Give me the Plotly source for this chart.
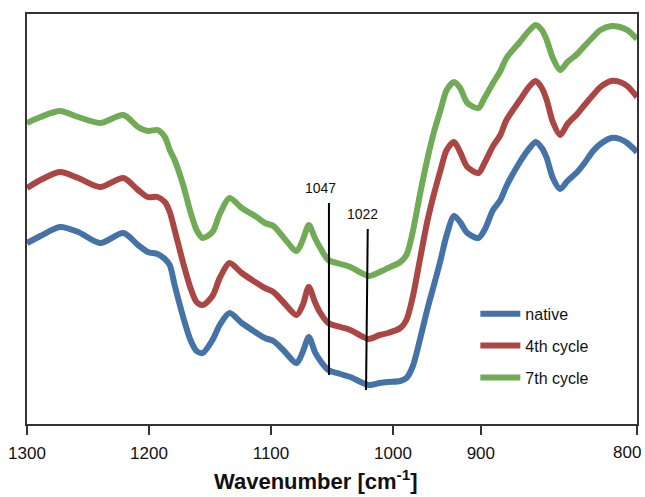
import plotly.graph_objects as go

# ---- data ----
wavenumber = [1300, 1289, 1273, 1258, 1240, 1221, 1209, 1201, 1193, 1187,
              1183, 1179, 1172, 1166, 1161, 1156, 1148, 1142, 1134, 1124,
              1113, 1105, 1098, 1090, 1079, 1074, 1069, 1064, 1060, 1053,
              1043, 1035, 1020, 1011, 1004, 994, 989, 984, 978, 972,
              966, 961, 956, 950, 945, 939, 930, 925, 918, 912,
              907, 896, 888, 883, 878, 874, 869, 863, 857, 849,
              843, 836, 830, 821, 814, 808, 800]

native = [181, 188, 197, 192, 181, 191, 179, 172, 170, 165,
          159, 139, 107, 84, 73, 71, 84, 99, 111, 101,
          92, 86, 83, 74, 61, 72, 87, 72, 64, 54,
          50, 47, 39, 41, 42, 43, 46, 57, 84, 114,
          141, 164, 189, 208, 202, 191, 186, 194, 214, 224,
          238, 262, 276, 282, 276, 266, 246, 235, 243, 252,
          261, 273, 280, 286, 285, 281, 272]

cycle4 = [236, 244, 252, 246, 237, 246, 234, 227, 227, 222,
          212, 194, 161, 136, 122, 119, 128, 146, 161, 151,
          142, 136, 132, 122, 109, 119, 137, 122, 112, 101,
          97, 94, 85, 89, 91, 96, 104, 126, 164, 202,
          232, 254, 274, 282, 272, 257, 251, 261, 278, 289,
          304, 324, 338, 343, 336, 324, 302, 289, 300, 310,
          319, 329, 337, 343, 342, 338, 327]

cycle7 = [301, 307, 313, 307, 301, 309, 297, 293, 294, 287,
          274, 264, 239, 212, 194, 186, 192, 210, 226, 216,
          208, 201, 198, 187, 173, 184, 199, 186, 177, 164,
          160, 157, 148, 152, 156, 162, 169, 191, 229, 264,
          294, 314, 334, 342, 336, 321, 316, 326, 341, 353,
          366, 382, 394, 399, 394, 384, 366, 354, 362, 370,
          378, 387, 394, 398, 397, 394, 385]

series_names = ["native", "4th cycle", "7th cycle"]
series_values = [native, cycle4, cycle7]
series_colors = ["#4572A7", "#AA4643", "#71AB56"]

# tick labels as they appear on the reference axis
tick_positions = [1300, 1200, 1100, 1000, 928, 800]
tick_labels = ["1300", "1200", "1100", "1000", "900", "800"]

# band marker lines
band_labels = ["1047", "1022"]
band_x_top = [1052.5, 1020.7]
band_x_bottom = [1052.5, 1022.1]
band_y_top = [221, 195]
band_y_bottom = [49, 34]
band_label_x = [1059.8, 1024.6]
band_label_y = [236, 210]

FONT = "Liberation Sans, Arial, sans-serif"

fig = go.Figure()
for name, vals, col in zip(series_names, series_values, series_colors):
    fig.add_trace(go.Scatter(
        x=wavenumber, y=vals, mode="lines", name=name,
        legendgroup=name,
        line=dict(color=col, width=6, shape="spline", smoothing=0.8),
    ))

for lab, xt, xb, yt, yb, lx, ly in zip(band_labels, band_x_top, band_x_bottom,
                                       band_y_top, band_y_bottom,
                                       band_label_x, band_label_y):
    fig.add_shape(type="line", xref="x", yref="y", x0=xb, y0=yb, x1=xt, y1=yt,
                  line=dict(color="black", width=2))
    fig.add_annotation(x=lx, y=ly, xref="x", yref="y", text=lab, showarrow=False,
                       font=dict(family=FONT, size=14, color="#111"))

# the last tick label sits flush with the right edge in the reference
fig.add_annotation(x=tick_positions[-1], y=0, xref="x", yref="paper",
                   xanchor="right", yanchor="top", xshift=6, yshift=-17,
                   showarrow=False, text=tick_labels[-1],
                   font=dict(family=FONT, size=17, color="#111"))

# x-axis title (sits slightly left of the axis centre in the reference)
fig.add_annotation(x=0.474, y=-0.176, xref="paper", yref="paper",
                   xanchor="center", yanchor="bottom", showarrow=False,
                   text="<b>Wavenumber [cm<sup>-1</sup>]</b>",
                   font=dict(family=FONT, size=22, color="#111"))

fig.update_layout(
    width=645, height=497,
    margin=dict(l=27, r=8, t=14, b=73, autoexpand=False),
    paper_bgcolor="white", plot_bgcolor="white",
    font=dict(family=FONT, color="#111"),
    showlegend=True,
    legend=dict(x=0.735, y=0.31, xanchor="left", yanchor="top",
                font=dict(family=FONT, size=16, color="#111"),
                itemwidth=40,
                tracegroupgap=8, bgcolor="rgba(0,0,0,0)"),
    xaxis=dict(range=[1300, 800], showgrid=False, zeroline=False,
               automargin=False, ticklabeloverflow="allow",
               showline=True, linecolor="#333", linewidth=1.5, mirror=True,
               ticks="outside", ticklen=9, tickwidth=1.5, tickcolor="#333",
               ticklabelstandoff=4,
               tickvals=tick_positions,
               ticktext=tick_labels[:-1] + [""],
               tickfont=dict(family=FONT, size=17, color="#111")),
    yaxis=dict(range=[0, 410], showgrid=False, zeroline=False, automargin=False,
               showline=True, linecolor="#333", linewidth=1.5, mirror=True,
               showticklabels=False, ticks=""),
)

fig.write_html("out.html",
               config={"displayModeBar": False},
               post_script="document.body.style.margin='0';"
                           "document.body.style.overflow='hidden';")
